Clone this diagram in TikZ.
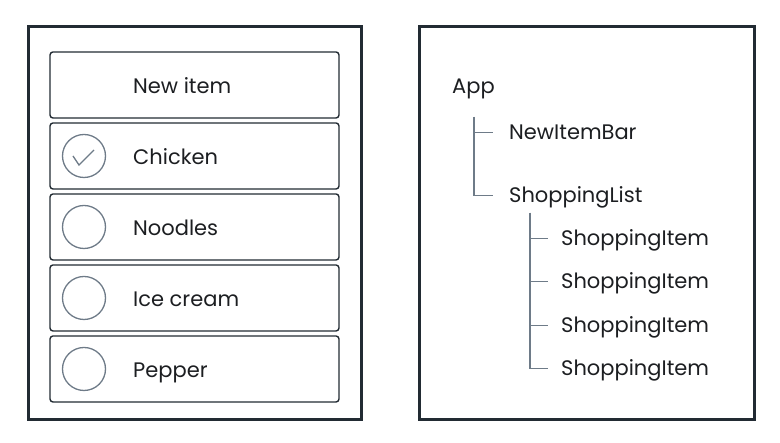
\documentclass[tikz,border=0pt]{standalone}
\usepackage{fontspec}
\setmainfont{Poppins}
\usetikzlibrary{positioning}

\definecolor{framecol}{HTML}{222B33}
\definecolor{treecol}{HTML}{6E7B88}
\definecolor{inkcol}{HTML}{1C1E21}

\tikzset{
  appframe/.style={draw=framecol, line width=3pt},
  itembox/.style={draw=framecol, line width=1.4pt, rounded corners=3pt,
    minimum width=289pt, minimum height=66pt, inner sep=0pt},
  itemtext/.style={anchor=west, inner sep=0pt, text height=15pt, text depth=0pt,
    text=inkcol, font=\fontsize{21}{25}\selectfont},
  checkcircle/.style={circle, draw=treecol, line width=1.3pt, minimum size=43pt, inner sep=0pt},
  checkmark/.style={draw=treecol, line width=1.3pt},
  treelabel/.style={itemtext},
  treeline/.style={draw=treecol, line width=1.4pt}
}

\begin{document}
\begin{tikzpicture}[x=1pt, y=1pt]
    \useasboundingbox (0,0) rectangle (780,443);

    % Left: the shopping list screen
    \draw[appframe] (28,23) rectangle (361,416);
    \node[itembox] (row0) at (194.5,358) {};
    \node[itemtext] (label0) at (133,357) {New item};
    \foreach \name [count=\i] in {Chicken,Noodles,Ice cream,Pepper} {
        \node[itembox] (row\i) at (194.5,358-71*\i) {};
        \node[checkcircle] (tick\i) at (84,358-71*\i) {};
        \node[itemtext] (label\i) at (133,357-71*\i) {\name};
    }
    \draw[checkmark] ([shift={(-11,0)}]tick1.center) -- ++(6,-9) -- ++(15,15);

    % Right: the component tree
    \draw[appframe] (419,23) rectangle (754,416);
    \node[treelabel] (app) at (452,356.5) {App};
    \node[treelabel] (newbar) at (509,310.5) {NewItemBar};
    \node[treelabel] (shoplist) at (509,247.5) {ShoppingList};
    \foreach \y [count=\i] in {204.5,161.5,117.5,74.5} {
        \node[treelabel] (shopitem\i) at (561,\y) {ShoppingItem};
    }

    \coordinate (appfoot) at (474,326);
    \draw[treeline] (appfoot) |- ([xshift=-16pt]newbar.west);
    \draw[treeline] (appfoot) |- ([xshift=-16pt]shoplist.west);

    \coordinate (listfoot) at (530,230);
    \foreach \i in {1,...,4} {
        \draw[treeline] (listfoot) |- ([xshift=-13pt]shopitem\i.west);
    }
\end{tikzpicture}
\end{document}
